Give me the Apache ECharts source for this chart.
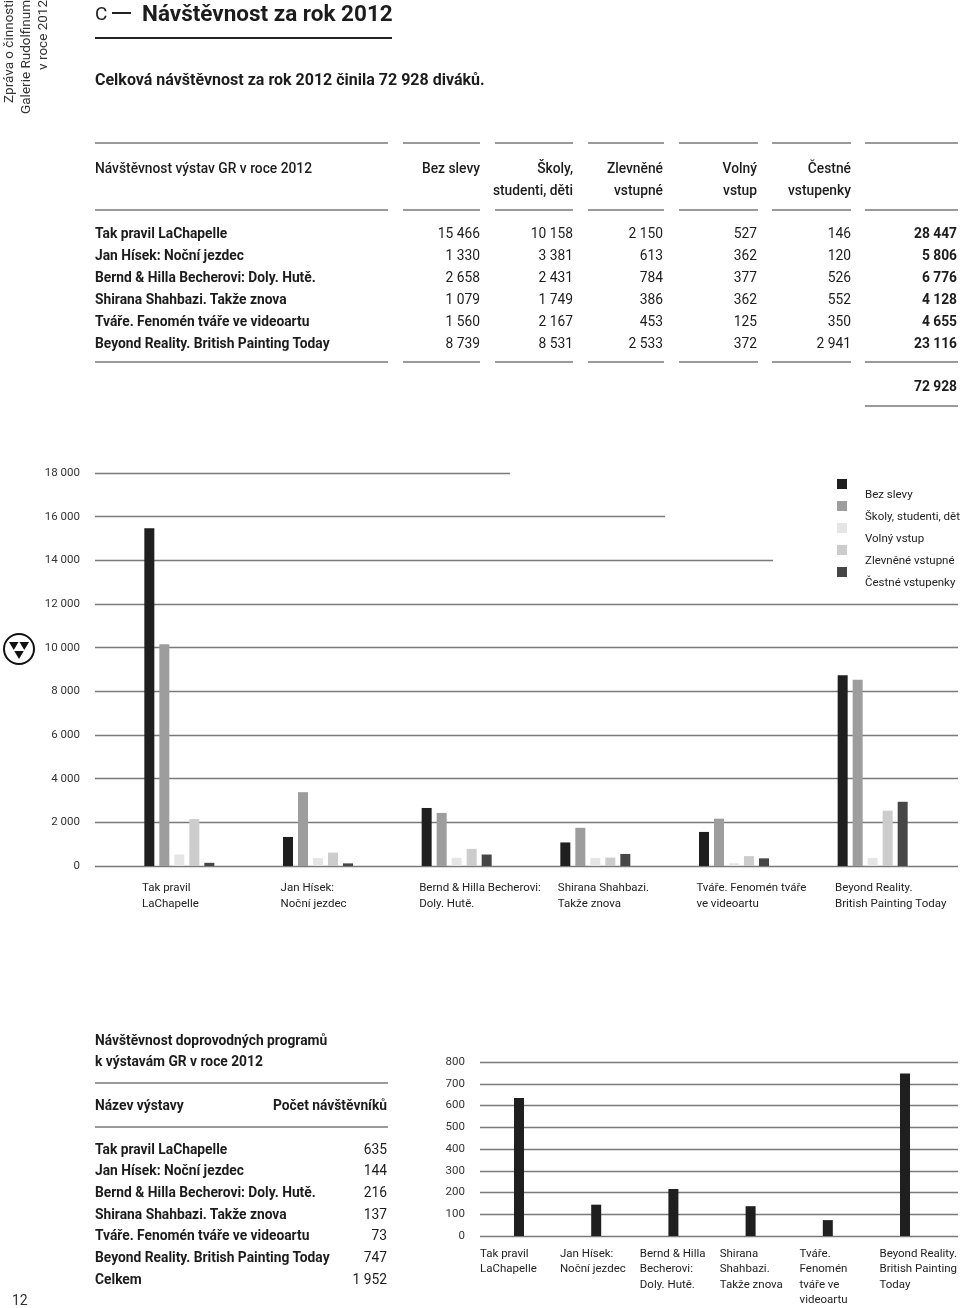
<!DOCTYPE html>
<html><head><meta charset="utf-8">
<script src="https://cdn.jsdelivr.net/npm/echarts@6/dist/echarts.min.js"></script>
<style>
html,body{margin:0;padding:0;background:#fff}
body{width:960px;height:1308px;position:relative;overflow:hidden;font-family:Roboto,"Noto Sans",sans-serif;color:#1c1c1c}
#chart{position:absolute;left:0;top:0;width:960px;height:1308px}
.t{position:absolute;white-space:nowrap;z-index:2}
.l{position:absolute;z-index:2}
#side{position:absolute;left:0;top:114px;width:114px;height:52px;transform-origin:0 0;transform:rotate(-90deg);font-size:13.5px;line-height:17px;text-align:right;color:#333;z-index:2}
</style></head><body>
<div id="chart"></div>
<div id="side">Zpráva o činnosti<br>Galerie Rudolfinum<br>v roce 2012</div>
<svg style="position:absolute;left:2px;top:632px;z-index:2" width="34" height="34" viewBox="0 0 34 34">
<circle cx="17" cy="17" r="15" fill="none" stroke="#111" stroke-width="2"/>
<polygon points="7,10 16.5,10 11.75,18" fill="#111"/>
<polygon points="17.5,10 27,10 22.25,18" fill="#111"/>
<polygon points="12.25,19 21.75,19 17,27" fill="#111"/>
</svg>
<script>
// ---------- data ----------
const exhibitions = ['Tak pravil LaChapelle','Jan Hísek: Noční jezdec','Bernd & Hilla Becherovi: Doly. Hutě.','Shirana Shahbazi. Takže znova','Tváře. Fenomén tváře ve videoartu','Beyond Reality. British Painting Today'];
const chartCategories = ['Tak pravil\nLaChapelle','Jan Hísek:\nNoční jezdec','Bernd & Hilla Becherovi:\nDoly. Hutě.','Shirana Shahbazi.\nTakže znova','Tváře. Fenomén tváře\nve videoartu','Beyond Reality.\nBritish Painting Today'];
const bezSlevy = [15466,1330,2658,1079,1560,8739];
const skoly    = [10158,3381,2431,1749,2167,8531];
const zlevnene = [2150,613,784,386,453,2533];
const volny    = [527,362,377,362,125,372];
const cestne   = [146,120,526,552,350,2941];
const tableHeaders = [['Bez slevy'],['Školy,','studenti, děti'],['Zlevněné','vstupné'],['Volný','vstup'],['Čestné','vstupenky']];
const seriesNames = ['Bez slevy','Školy, studenti, děti','Volný vstup','Zlevněné vstupné','Čestné vstupenky'];
const programCategories = ['Tak pravil\nLaChapelle','Jan Hísek:\nNoční jezdec','Bernd & Hilla\nBecherovi:\nDoly. Hutě.','Shirana\nShahbazi.\nTakže znova','Tváře.\nFenomén\ntváře ve\nvideoartu','Beyond Reality.\nBritish Painting\nToday'];
const programVisitors = [635,144,216,137,73,747];
const mainAxis = {min:0, max:18000, interval:2000};
const progAxis = {min:0, max:800, interval:100};

// ---------- helpers ----------
const fmt = v => String(v).replace(/\B(?=(\d{3})+(?!\d))/g, '\u00a0');
function T(x, y, s, o) {
  o = o || {};
  const d = document.createElement('div');
  d.className = 't';
  const size = o.size || 13.8;
  d.style.fontSize = size + 'px';
  d.style.lineHeight = size + 'px';
  d.style.top = (y - size / 2 + (o.dy === undefined ? 1.5 : o.dy)) + 'px';
  if (o.align === 'right') d.style.right = (960 - x) + 'px'; else d.style.left = x + 'px';
  if (o.w) d.style.fontWeight = o.w;
  if (o.c) d.style.color = o.c;
  d.textContent = s;
  document.body.appendChild(d);
}
function L(x1, x2, y, h, c) {
  const d = document.createElement('div');
  d.className = 'l';
  d.style.left = x1 + 'px'; d.style.top = (y - h / 2) + 'px';
  d.style.width = (x2 - x1) + 'px'; d.style.height = h + 'px';
  d.style.background = c;
  document.body.appendChild(d);
}

// ---------- header ----------
T(95, 13, 'C', {size: 19, w: 400, dy: 0});
L(112, 131, 13, 1.5, '#222');
T(142, 13, 'Návštěvnost za rok 2012', {size: 22.5, w: 700, dy: 0});
L(95, 392, 38, 2, '#222');
const grand = bezSlevy.reduce((a, v, i) => a + v + skoly[i] + zlevnene[i] + volny[i] + cestne[i], 0);
T(95, 78, 'Celková návštěvnost za rok 2012 činila ' + fmt(grand) + ' diváků.', {size: 16, w: 700});

// ---------- table 1 ----------
const segs = [[95,388],[403,480],[495,573],[588,664],[679,758],[772,851],[865,958]];
const colRight = [480,573,663,757,851];
[143, 210, 362].forEach(y => segs.forEach(s => L(s[0], s[1], y, 2, '#9a9a9a')));
T(95, 167, 'Návštěvnost výstav GR v roce 2012', {w: 500});
tableHeaders.forEach((h, i) => h.forEach((line, j) => T(colRight[i], 167 + j * 22, line, {align: 'right', w: 500})));
const cols = [bezSlevy, skoly, zlevnene, volny, cestne];
exhibitions.forEach((name, r) => {
  const y = 232 + r * 22;
  T(95, y, name, {w: 700});
  let tot = 0;
  cols.forEach((c, i) => { tot += c[r]; T(colRight[i], y, fmt(c[r]), {align: 'right', w: 400}); });
  T(957, y, fmt(tot), {align: 'right', w: 700});
});
T(957, 385, fmt(grand), {align: 'right', w: 700});
L(865, 958, 406, 2, '#9a9a9a');

// ---------- table 2 ----------
T(95, 1039, 'Návštěvnost doprovodných programů', {w: 700});
T(95, 1060, 'k výstavám GR v roce 2012', {w: 700});
L(95, 388, 1083, 2, '#9a9a9a');
T(95, 1104, 'Název výstavy', {w: 700});
T(387, 1104, 'Počet návštěvníků', {w: 700, align: 'right'});
L(95, 388, 1127, 2, '#9a9a9a');
exhibitions.forEach((name, r) => {
  const y = 1148 + r * 21.7;
  T(95, y, name, {w: 700});
  T(387, y, fmt(programVisitors[r]), {w: 400, align: 'right'});
});
T(95, 1148 + 6 * 21.7, 'Celkem', {w: 700});
T(387, 1148 + 6 * 21.7, fmt(programVisitors.reduce((a, b) => a + b, 0)), {w: 400, align: 'right'});
T(12, 1298, '12', {size: 14, w: 400, c: '#333'});

// ---------- charts ----------
const GRID_C = '#7a7a7a';
const FONT = 'Roboto';
const tickCount = (mainAxis.max - mainAxis.min) / mainAxis.interval + 1;
function lineColors(visibleFrom, visibleTo) {
  const a = [];
  for (let i = 0; i < tickCount; i++) a.push(i >= visibleFrom && i <= visibleTo ? GRID_C : 'rgba(0,0,0,0)');
  return a;
}
const mainTop = 473, mainH = 393;
const grids = [
  {left: 95, top: mainTop, width: 863, height: mainH},   // 0 full gridlines + labels
  {left: 95, top: mainTop, width: 415, height: mainH},   // 1 short line 18000
  {left: 95, top: mainTop, width: 570, height: mainH},   // 2 short line 16000
  {left: 95, top: mainTop, width: 678, height: mainH},   // 3 short line 14000
  {left: 110, top: mainTop, width: 832, height: mainH},  // 4 bars
  {left: 142, top: mainTop, width: 693, height: mainH},  // 5 category labels
  {left: 480, top: 1062, width: 478, height: 174},       // 6 program gridlines
  {left: 480.4, top: 1062, width: 463.2, height: 174},   // 7 program bars
  {left: 480, top: 1062, width: 400, height: 174}        // 8 program labels
];
const xAxes = [
  {type: 'value', gridIndex: 0, show: false},
  {type: 'value', gridIndex: 1, show: false},
  {type: 'value', gridIndex: 2, show: false},
  {type: 'value', gridIndex: 3, show: false},
  {type: 'category', gridIndex: 4, data: chartCategories, show: false},
  {type: 'category', gridIndex: 5, data: chartCategories, boundaryGap: false,
   axisLine: {show: false}, axisTick: {show: false},
   axisLabel: {align: 'left', verticalAlign: 'top', margin: 14, lineHeight: 16, fontSize: 11.5, color: '#222', fontFamily: FONT, interval: 0}},
  {type: 'value', gridIndex: 6, show: false},
  {type: 'category', gridIndex: 7, data: programCategories, show: false},
  {type: 'category', gridIndex: 8, data: programCategories, boundaryGap: false,
   axisLine: {show: false}, axisTick: {show: false},
   axisLabel: {align: 'left', verticalAlign: 'top', margin: 14, lineHeight: 15.5, fontSize: 11.5, color: '#222', fontFamily: FONT, interval: 0}}
];
function splitY(gi, colors, labels) {
  return {type: 'value', gridIndex: gi, min: mainAxis.min, max: mainAxis.max, interval: mainAxis.interval,
    axisLine: {show: false}, axisTick: {show: false},
    axisLabel: labels ? {show: true, formatter: fmt, margin: 15, fontSize: 11.5, color: '#333', fontFamily: FONT} : {show: false},
    splitLine: {show: true, lineStyle: {color: colors, width: 1.3}}};
}
const yAxes = [
  splitY(0, lineColors(0, tickCount - 4), true),
  splitY(1, lineColors(tickCount - 1, tickCount - 1), false),
  splitY(2, lineColors(tickCount - 2, tickCount - 2), false),
  splitY(3, lineColors(tickCount - 3, tickCount - 3), false),
  {type: 'value', gridIndex: 4, min: mainAxis.min, max: mainAxis.max, show: false},
  {type: 'value', gridIndex: 5, min: mainAxis.min, max: mainAxis.max, show: false},
  {type: 'value', gridIndex: 6, min: progAxis.min, max: progAxis.max, interval: progAxis.interval,
    axisLine: {show: false}, axisTick: {show: false},
    axisLabel: {margin: 15, fontSize: 11.5, color: '#333', fontFamily: FONT},
    splitLine: {show: true, lineStyle: {color: GRID_C, width: 1.3}}},
  {type: 'value', gridIndex: 7, min: progAxis.min, max: progAxis.max, show: false},
  {type: 'value', gridIndex: 8, min: progAxis.min, max: progAxis.max, show: false}
];
const seriesData = [bezSlevy, skoly, volny, zlevnene, cestne];
const seriesColors = ['#1f1f1f', '#9d9d9d', '#e5e5e5', '#cccccc', '#464646'];
const series = seriesData.map((d, i) => ({
  type: 'bar', name: seriesNames[i], xAxisIndex: 4, yAxisIndex: 4, data: d,
  barWidth: 10, barGap: '50%', itemStyle: {color: seriesColors[i]}
}));
series.push({type: 'bar', name: 'Návštěvnost doprovodných programů', xAxisIndex: 7, yAxisIndex: 7,
  data: programVisitors, barWidth: 10, itemStyle: {color: '#1f1f1f'}});

const chart = echarts.init(document.getElementById('chart'), null, {renderer: 'canvas'});
chart.setOption({
  animation: false,
  grid: grids, xAxis: xAxes, yAxis: yAxes, series: series,
  legend: {
    data: seriesNames, orient: 'vertical', left: 837, top: 479, padding: 0,
    // square sits in the top of a 10x32 icon box, so the name reads half a row below it
    icon: 'path://M0,0H10V10H0Z M0,32L0.01,32', itemWidth: 10, itemHeight: 32, itemGap: -10, selectedMode: false,
    textStyle: {fontSize: 11.5, color: '#222', fontFamily: FONT, padding: [0, 0, 0, 13]}
  }
});
</script>
</body></html>
